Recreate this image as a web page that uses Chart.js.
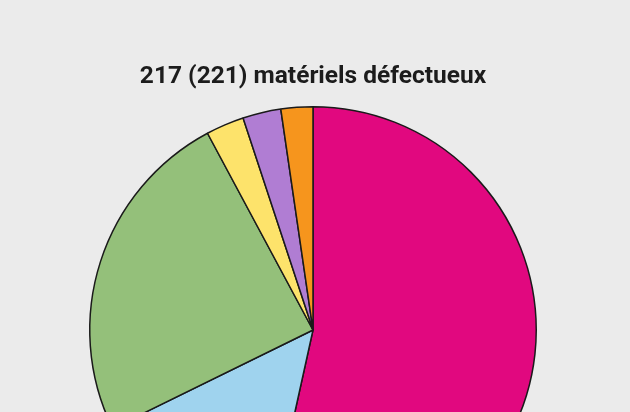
<!DOCTYPE html>
<html>
<head>
<meta charset="utf-8">
<script src="https://cdn.jsdelivr.net/npm/chart.js@4/dist/chart.umd.min.js"></script>
<style>
  html, body { margin: 0; padding: 0; background: #ebebeb; overflow: hidden; }
  #wrap { width: 630px; height: 554px; position: relative; }
</style>
</head>
<body>
<div id="wrap"><canvas id="graph"></canvas></div>
<script>
// pie slices, clockwise from 12 o'clock
var categories = ['Catégorie A', 'Catégorie B', 'Catégorie C', 'Catégorie D', 'Catégorie E', 'Catégorie F'];
var counts = [116, 31, 53, 6, 6, 5];
var colors = ['#e1087f', '#9fd3ee', '#94c07a', '#fde36b', '#b07dd3', '#f6951d'];
var titleText = '217 (221) matériels défectueux';

var context = document.querySelector('#graph').getContext('2d');

var chart = new Chart(context, {
    type: 'pie',
    data: {
        labels: categories,
        datasets: [
            {
                data: counts,
                backgroundColor: colors,
                borderColor: '#1a1a1a',
                borderWidth: 1.5
            }
        ]
    },
    options: {
        responsive: true,
        maintainAspectRatio: false,
        animation: false,
        layout: {
            padding: { right: 4 }
        },
        plugins: {
            legend: { display: false },
            tooltip: { enabled: false },
            title: {
                display: true,
                text: titleText,
                color: '#1c1c1c',
                font: { family: 'Roboto', size: 24.5, weight: 'bold' },
                padding: { top: 62, bottom: 14.6 }
            }
        }
    }
});
</script>
</body>
</html>
